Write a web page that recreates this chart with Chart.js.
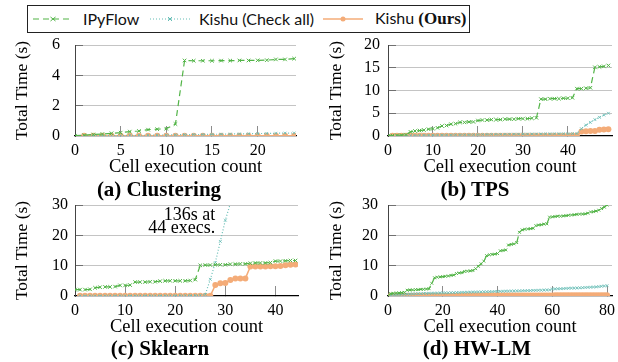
<!DOCTYPE html>
<html><head><meta charset="utf-8">
<script src="https://cdn.jsdelivr.net/npm/chart.js@4/dist/chart.umd.min.js"></script>
<style>
html,body{margin:0;padding:0;background:#fff;width:618px;height:362px;overflow:hidden;position:relative}
canvas{position:absolute}
.cap{position:absolute;font:bold 21px "Liberation Serif",serif;color:#000;transform:translate(-50%,-50%);white-space:nowrap;line-height:1.2}
#legend{position:absolute;left:27px;top:5px;width:443px;height:28px;border:1px solid #222;box-sizing:border-box}
.lt{position:absolute;font:16px Lato,sans-serif;color:#111;transform:translateY(-50%);white-space:nowrap;line-height:1.2}
.lt b{font-family:"Liberation Serif",serif;font-weight:bold;font-size:17px}
svg{position:absolute}
</style>
</head><body>
<div id="legend"></div>
<svg style="left:33px;top:14px" width="40" height="10"><line x1="0" y1="5" x2="40" y2="5" stroke="#52B447" stroke-width="1.2" stroke-dasharray="6,4"/><path d="M17.5 3L22.5 7M22.5 3L17.5 7" stroke="#52B447" stroke-width="1"/></svg>
<div class="lt" style="left:83px;top:19px">IPyFlow</div>
<svg style="left:150px;top:14px" width="40" height="10"><line x1="0" y1="5" x2="40" y2="5" stroke="#66BDB5" stroke-width="1.2" stroke-dasharray="1,2"/><path d="M18 3L22 7M22 3L18 7" stroke="#66BDB5" stroke-width="1"/></svg>
<div class="lt" style="left:199px;top:19px">Kishu (Check all)</div>
<svg style="left:323px;top:14px" width="40" height="10"><line x1="0" y1="5" x2="40" y2="5" stroke="#F4AC78" stroke-width="1.5"/><circle cx="20" cy="5" r="2.5" fill="#F4AC78"/></svg>
<div class="lt" style="left:375px;top:19px">Kishu <b>(Ours)</b></div>

<canvas id="ca" width="310" height="145" style="left:0;top:35px"></canvas>
<canvas id="cb" width="308" height="145" style="left:310px;top:35px"></canvas>
<canvas id="cc" width="310" height="145" style="left:0;top:195px"></canvas>
<canvas id="cd" width="308" height="145" style="left:310px;top:195px"></canvas>
<div class="cap" style="left:159px;top:190px">(a) Clustering</div>
<div class="cap" style="left:475px;top:190px">(b) TPS</div>
<div class="cap" style="left:160px;top:349px">(c) Sklearn</div>
<div class="cap" style="left:477px;top:349px">(d) HW-LM</div>
<script>
// ---- data (IPyFlow series start at execution 0, Kishu series at execution 1) ----
const clusteringIPyFlow = [0.02,0.05,0.1,0.13,0.18,0.22,0.29,0.33,0.42,0.45,0.48,0.79,4.98,4.96,4.96,4.96,4.97,4.97,4.98,4.98,4.99,5.0,5.05,5.05,5.1];
const clusteringCheckAll = [0.01,0.02,0.02,0.03,0.03,0.04,0.05,0.05,0.06,0.07,0.08,0.09,0.1,0.1,0.11,0.12,0.13,0.14,0.15,0.16,0.17,0.18,0.19,0.2];
const clusteringOurs = [0.01,0.01,0.01,0.01,0.01,0.01,0.01,0.01,0.01,0.01,0.01,0.01,0.01,0.01,0.01,0.01,0.01,0.01,0.01,0.02,0.02,0.02,0.02,0.02];

const tpsIPyFlow = [0.05,0.1,0.15,0.2,0.3,0.9,1.1,1.2,1.3,1.5,1.6,1.8,2.2,2.3,2.6,2.7,3.0,3.0,3.1,3.1,3.4,3.5,3.5,3.6,3.6,3.6,3.7,3.7,3.7,3.8,3.8,3.8,3.9,4.0,8.1,8.1,8.2,8.2,8.2,8.3,8.3,8.4,10.4,10.4,10.5,10.6,15.1,15.2,15.3,15.5];
const tpsCheckAll = [0.05,0.06,0.08,0.1,0.12,0.14,0.16,0.18,0.2,0.21,0.22,0.24,0.25,0.26,0.27,0.28,0.29,0.3,0.31,0.32,0.33,0.34,0.35,0.36,0.37,0.38,0.39,0.4,0.41,0.42,0.43,0.44,0.45,0.46,0.47,0.48,0.49,0.5,0.51,0.52,0.53,0.55,1.6,2.4,3.0,3.6,4.1,4.6,5.0];
const tpsOurs = [0.05,0.05,0.05,0.05,0.05,0.05,0.05,0.05,0.05,0.05,0.06,0.06,0.06,0.06,0.06,0.06,0.06,0.06,0.06,0.06,0.07,0.07,0.07,0.07,0.07,0.07,0.07,0.07,0.07,0.07,0.08,0.08,0.08,0.08,0.08,0.08,0.08,0.08,0.08,0.08,0.1,0.1,1.0,1.05,1.1,1.1,1.4,1.45,1.5];

const sklearnIPyFlow = [2.1,2.1,2.1,2.2,2.7,2.9,3.0,3.0,3.1,3.5,3.5,3.6,4.6,4.6,4.6,4.7,4.7,4.9,5.0,5.0,5.0,5.0,5.0,5.1,5.4,10.1,10.2,10.2,10.3,10.3,10.3,10.5,10.5,10.6,10.6,10.8,10.9,10.9,10.9,11.0,11.5,11.5,11.6,11.7,11.7];
const sklearnCheckAll = [0.05,0.05,0.06,0.06,0.07,0.07,0.08,0.08,0.09,0.09,0.1,0.1,0.11,0.11,0.12,0.12,0.13,0.13,0.14,0.15,0.16,0.17,0.18,0.19,0.2,0.5,5.5,11,18,25,30.5,39,47,55,63,71,80,88,97,105,113,120,128,136];
const sklearnOurs = [0.05,0.05,0.05,0.05,0.05,0.05,0.05,0.05,0.05,0.05,0.05,0.05,0.05,0.05,0.05,0.05,0.05,0.05,0.05,0.05,0.05,0.05,0.05,0.05,0.05,0.05,0.05,3.6,4.2,4.3,5.3,5.8,5.8,5.8,9.7,9.7,9.7,9.7,9.8,9.8,9.9,10.1,10.3,10.4];

const hwlmIPyFlow = [0.1,0.8,0.9,1.0,1.0,1.1,1.2,1.9,2.0,2.0,2.1,2.1,2.2,2.2,2.3,2.4,4.2,6.0,6.2,6.3,6.4,6.5,6.6,6.8,6.9,7.4,7.6,7.7,8.1,8.2,8.3,8.4,9.0,9.8,10.6,11.5,13.3,13.6,13.7,13.8,14.0,14.9,15.0,15.2,16.8,17.0,17.2,17.6,21.0,21.8,22.0,22.1,22.2,22.3,23.2,23.4,23.5,23.7,23.8,26.0,26.1,26.2,26.3,26.3,26.4,26.5,26.6,26.7,26.8,26.9,27.0,27.0,27.1,27.3,27.7,27.8,28.0,28.3,28.8,29.3,30.0];
const hwlmCheckAll = [0.3,0.35,0.4,0.45,0.5,0.55,0.6,0.65,0.7,0.75,0.8,0.8,0.85,0.85,0.9,0.9,0.95,0.95,1.0,1.0,1.05,1.05,1.1,1.1,1.15,1.15,1.2,1.2,1.25,1.25,1.3,1.3,1.35,1.35,1.4,1.4,1.45,1.45,1.5,1.5,1.55,1.55,1.6,1.6,1.65,1.65,1.7,1.7,1.75,1.75,1.8,1.8,1.85,1.85,1.9,1.9,1.95,2.0,2.0,2.3,2.35,2.4,2.4,2.45,2.5,2.55,2.6,2.6,2.65,2.7,2.75,2.8,2.85,2.9,2.95,3.0,3.1,3.2,3.3,3.4];
const hwlmOurs = [0.05,0.05,0.05,0.06,0.06,0.06,0.07,0.07,0.07,0.08,0.08,0.08,0.09,0.09,0.09,0.1,0.1,0.1,0.1,0.1,0.11,0.11,0.11,0.11,0.12,0.12,0.12,0.12,0.13,0.13,0.13,0.13,0.14,0.14,0.14,0.14,0.15,0.15,0.15,0.15,0.16,0.16,0.16,0.16,0.17,0.17,0.17,0.17,0.18,0.18,0.18,0.18,0.19,0.19,0.19,0.19,0.2,0.2,0.2,0.2,0.21,0.21,0.21,0.21,0.22,0.22,0.22,0.22,0.23,0.23,0.23,0.23,0.24,0.24,0.24,0.24,0.25,0.25,0.25,0.25];

const seriesNames = ['IPyFlow','Kishu (Check all)','Kishu (Ours)'];
const yTicksA = [0,2,4,6], xTicksA = [0,5,10,15,20];
const yTicksB = [0,5,10,15,20], xTicksB = [0,10,20,30,40];
const yTicksC = [0,10,20,30], xTicksC = [0,10,20,30,40];
const yTicksD = [0,10,20,30], xTicksD = [0,20,40,60,80];
const annotationLines = ['136s at','44 execs.'];

const GREEN='#52B447', TEAL='#66BDB5', ORANGE='#F4AC78';
const SERIF="'Liberation Serif', serif";

function pts(arr, start){ return arr.map((v,i)=>({x:i+start,y:v})); }

const annotate = {
  id:'annotate',
  afterDatasetsDraw(chart, args, opts){
    if(!opts || !opts.lines) return;
    const {ctx, scales:{x,y}} = chart;
    ctx.save();
    ctx.font = "18px 'Liberation Serif', serif";
    ctx.fillStyle = '#000';
    ctx.textAlign = 'right';
    ctx.textBaseline = 'middle';
    opts.lines.forEach((t,i)=>{
      ctx.fillText(t, x.getPixelForValue(opts.x), y.getPixelForValue(opts.y[i]));
    });
    ctx.restore();
  }
};

function noPad(s){ s.paddingTop = 0; s.paddingBottom = 0; s.paddingLeft = 0; s.paddingRight = 0; }

function makeChart(id, c){
  const ds = [
    {label:seriesNames[0], data:pts(c.s[0],0), borderColor:GREEN, backgroundColor:GREEN, borderWidth:1.2, borderDash:[6,4],
     pointStyle:'crossRot', pointRadius:c.pr||2.5, pointBorderWidth:1, pointBorderColor:GREEN},
    {label:seriesNames[1], data:pts(c.s[1],1), borderColor:TEAL, backgroundColor:TEAL, borderWidth:1.2, borderDash:[1,2],
     pointStyle:'crossRot', pointRadius:2, pointBorderWidth:0.8, pointBorderColor:TEAL},
    {label:seriesNames[2], data:pts(c.s[2],1), borderColor:ORANGE, backgroundColor:ORANGE, borderWidth:1.5,
     pointStyle:'circle', pointRadius:3, pointBorderWidth:0, pointBackgroundColor:ORANGE}
  ];
  return new Chart(document.getElementById(id), {
    type:'line',
    data:{datasets:ds},
    plugins:[annotate],
    options:{
      responsive:false, animation:false, devicePixelRatio:1,
      layout:{padding:{top:10,right:c.padR,left:0,bottom:0}},
      plugins:{legend:{display:false}, tooltip:{enabled:false}, annotate:c.annot||{}},
      scales:{
        x:{type:'linear', min:0, max:c.xMax,
          afterBuildTicks:s=>{ s.ticks = c.xTicks.map(v=>({value:v})); },
          afterFit:s=>{ s.height = 44; noPad(s); },
          grid:{drawOnChartArea:false, drawTicks:true, tickLength:-10, lineWidth:1,
                tickColor:ctx=>ctx.tick && ctx.tick.value===0 ? 'rgba(0,0,0,0)' : '#8c8c8c'},
          border:{display:true, color:'#000', width:1.3},
          ticks:{padding:15, color:'#000', font:{family:SERIF, size:16}, maxRotation:0, autoSkip:false},
          title:{display:true, text:'Cell execution count', color:'#000', font:{family:SERIF, size:18.5}, padding:{top:0,bottom:2}}
        },
        y:{min:0, max:c.yMax,
          afterBuildTicks:s=>{ s.ticks = c.yTicks.map(v=>({value:v})); },
          afterFit:s=>{ s.width = c.yW; noPad(s); },
          grid:{drawTicks:true, tickLength:-8, lineWidth:1,
                color:ctx=>ctx.tick && ctx.tick.value===0 ? 'rgba(0,0,0,0)' : '#c4c4c4',
                tickColor:ctx=>ctx.tick && ctx.tick.value===0 ? 'rgba(0,0,0,0)' : '#707070'},
          border:{display:true, color:'#444', width:1},
          ticks:{padding:c.yPad, color:'#000', font:{family:SERIF, size:16}},
          title:{display:true, text:'Total Time (s)', color:'#000', font:{family:SERIF, size:17.5}, padding:{top:c.yTitlePad,bottom:0}}
        }
      }
    }
  });
}

makeChart('ca', {s:[clusteringIPyFlow,clusteringCheckAll,clusteringOurs], xMax:24.2, xTicks:xTicksA, yMax:6, yTicks:yTicksA, yW:75, padR:14, yPad:23, yTitlePad:11.5});
makeChart('cb', {s:[tpsIPyFlow,tpsCheckAll,tpsOurs], xMax:49.8, xTicks:xTicksB, yMax:20, yTicks:yTicksB, yW:78, padR:6, yPad:16, yTitlePad:15.5});
makeChart('cc', {s:[sklearnIPyFlow,sklearnCheckAll,sklearnOurs], xMax:44.5, xTicks:xTicksC, yMax:30, yTicks:yTicksC, yW:75, padR:12, yPad:15, yTitlePad:11.5,
  annot:{lines:annotationLines, x:28, y:[26.7,22.4]}});
makeChart('cd', {s:[hwlmIPyFlow,hwlmCheckAll,hwlmOurs], xMax:81.8, xTicks:xTicksD, yMax:30, yTicks:yTicksD, yW:78, padR:6, yPad:18, yTitlePad:15.5, pr:2});
</script>
</body></html>
